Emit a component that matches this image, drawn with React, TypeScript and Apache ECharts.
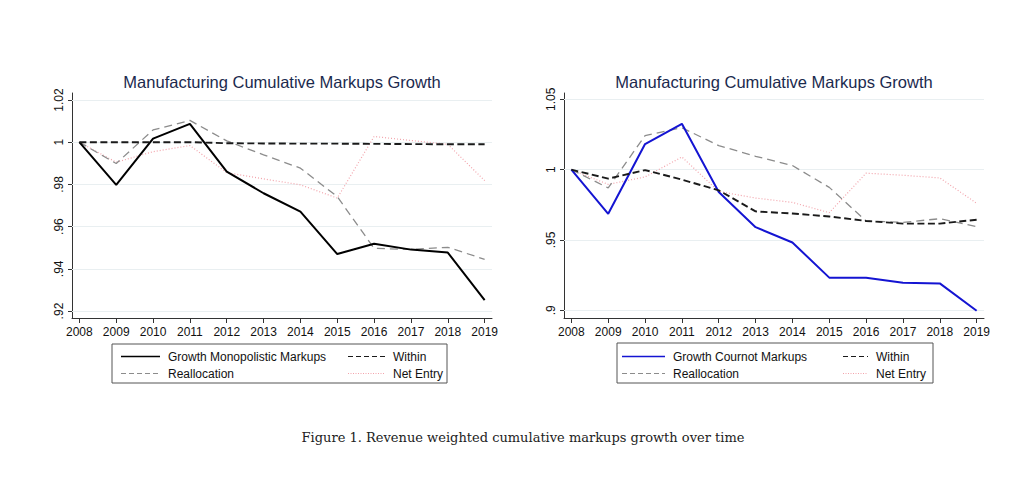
import React, { useEffect, useRef } from "react";
import * as echarts from "echarts";

// Years on the horizontal axis
const years = [2008, 2009, 2010, 2011, 2012, 2013, 2014, 2015, 2016, 2017, 2018, 2019];

// Left panel: monopolistic markups decomposition
const monoGrowth = [1.0, 0.9798, 1.0017, 1.0087, 0.9861, 0.9758, 0.9671, 0.947, 0.9519, 0.9491, 0.9477, 0.9252];
const monoWithin = [1.0, 1.0, 1.0, 1.0, 0.9995, 0.9994, 0.9993, 0.9993, 0.9992, 0.9991, 0.999, 0.999];
const monoRealloc = [1.0, 0.9899, 1.0058, 1.0103, 1.0006, 0.994, 0.9877, 0.9742, 0.9497, 0.9492, 0.9502, 0.9445];
const monoEntry = [1.0, 0.9905, 0.9955, 0.9984, 0.9856, 0.9826, 0.9798, 0.9735, 1.0027, 1.0008, 0.999, 0.9818];

// Right panel: Cournot markups decomposition
const cournotGrowth = [1.0, 0.9686, 1.0182, 1.0326, 0.9841, 0.9591, 0.9482, 0.9232, 0.9232, 0.9196, 0.9191, 0.8997];
const cournotWithin = [1.0, 0.9936, 0.9997, 0.9929, 0.9853, 0.9703, 0.9688, 0.9667, 0.9635, 0.9616, 0.9616, 0.9644];
const cournotRealloc = [1.0, 0.987, 1.0242, 1.0298, 1.0171, 1.0095, 1.0029, 0.9874, 0.9635, 0.9625, 0.9651, 0.9595];
const cournotEntry = [1.0, 0.9895, 0.9948, 1.009, 0.9845, 0.9798, 0.9767, 0.9694, 0.9975, 0.996, 0.9941, 0.9761];

// Tick values
const leftTicks = [0.92, 0.94, 0.96, 0.98, 1.0, 1.02];
const rightTicks = [0.9, 0.95, 1.0, 1.05];

const titleText = "Manufacturing Cumulative Markups Growth";
const captionText = "Figure 1. Revenue weighted cumulative markups growth over time";

const FONT = "'Liberation Sans', Arial, sans-serif";

const fmtTick = (v: number) => {
  let s = parseFloat(v.toFixed(2)).toString();
  if (s.startsWith("0.")) s = s.slice(1);
  return s;
};

const pairs = (vals: number[]) => years.map((y, i) => [y, vals[i]]);

export default function App() {
  const ref = useRef<HTMLDivElement>(null);

  useEffect(() => {
    if (!ref.current) return;
    const chart = echarts.init(ref.current, null, { renderer: "svg" });

    const grids = [
      { left: 72, top: 93, width: 420, height: 225 },
      { left: 564, top: 93, width: 420, height: 225 },
    ];

    const xAxis = [0, 1].map((g) => ({
      type: "value",
      gridIndex: g,
      min: 2007.8,
      max: 2019.2,
      axisLine: { show: true, lineStyle: { color: "#333", width: 1 } },
      axisTick: { show: true, length: 5, customValues: years, lineStyle: { color: "#333" } },
      axisLabel: {
        customValues: years,
        margin: 8,
        color: "#111",
        fontSize: 12,
        fontFamily: FONT,
        formatter: (v: number) => String(v),
      },
      splitLine: { show: false },
    }));

    const yAxis = [
      { ticks: leftTicks, min: 0.9167, max: 1.0233 },
      { ticks: rightTicks, min: 0.8945, max: 1.0545 },
    ].map((a, g) => ({
      type: "value",
      gridIndex: g,
      min: a.min,
      max: a.max,
      axisLine: { show: true, lineStyle: { color: "#333", width: 1 } },
      axisTick: { show: true, length: 4, customValues: a.ticks, lineStyle: { color: "#333" } },
      axisLabel: {
        customValues: a.ticks,
        rotate: 90,
        margin: 7,
        color: "#111",
        fontSize: 12,
        fontFamily: FONT,
        formatter: (v: number) => fmtTick(v),
      },
      splitLine: { show: false },
    }));

    // Light horizontal rules at each y tick, kept underneath the data lines
    const gridLines = (g: number, ticks: number[]) => ({
      type: "line",
      xAxisIndex: g,
      yAxisIndex: g,
      data: [],
      silent: true,
      z: 1,
      markLine: {
        silent: true,
        z: 1,
        symbol: ["none", "none"],
        label: { show: false },
        lineStyle: { color: "#e9eff1", type: "solid", width: 1 },
        data: ticks.map((t) => ({ yAxis: t })),
      },
    });

    const line = (g: number, name: string, vals: number[], style: any) => ({
      type: "line",
      name,
      xAxisIndex: g,
      yAxisIndex: g,
      data: pairs(vals),
      symbol: "none",
      z: 6,
      lineStyle: style,
    });

    const realloc = { color: "#8c8c8c", width: 1.3, type: [8, 5] };
    const entry = { color: "#f2a3ab", width: 1.2, type: [1, 2] };
    const within = { color: "#1a1a1a", width: 1.9, type: [7, 3.5] };

    const series = [
      gridLines(0, leftTicks),
      gridLines(1, rightTicks),
      line(0, "Net Entry", monoEntry, entry),
      line(0, "Reallocation", monoRealloc, realloc),
      line(0, "Growth Monopolistic Markups", monoGrowth, { color: "#000", width: 2 }),
      line(0, "Within", monoWithin, within),
      line(1, "Net Entry", cournotEntry, entry),
      line(1, "Reallocation", cournotRealloc, realloc),
      line(1, "Growth Cournot Markups", cournotGrowth, { color: "#1414d2", width: 2 }),
      line(1, "Within", cournotWithin, within),
    ];

    // Two-column boxed legends drawn beneath each panel
    const legendBlock = (
      box: { x: number; y: number; w: number; h: number },
      rows: { y: number }[],
      col1: { x1: number; x2: number; tx: number },
      col2: { x1: number; x2: number; tx: number },
      items: { label: string; style: any }[]
    ) => {
      const children: any[] = [
        {
          type: "rect",
          shape: { x: box.x, y: box.y, width: box.w, height: box.h },
          style: { fill: "#fff", stroke: "#555", lineWidth: 1 },
        },
      ];
      items.forEach((it, i) => {
        const col = i % 2 === 0 ? col1 : col2;
        const y = rows[Math.floor(i / 2)].y;
        children.push({
          type: "line",
          shape: { x1: col.x1, y1: y, x2: col.x2, y2: y },
          style: {
            stroke: it.style.color,
            lineWidth: it.style.width,
            lineDash: Array.isArray(it.style.type) ? it.style.type : null,
          },
        });
        children.push({
          type: "text",
          x: col.tx,
          y,
          style: {
            text: it.label,
            fill: "#111",
            font: `12px ${FONT}`,
            textVerticalAlign: "middle",
            textAlign: "left",
          },
        });
      });
      return { type: "group", children };
    };

    const legendItems = (main: string, color: string) => [
      { label: main, style: { color, width: 1.5 } },
      { label: "Within", style: { color: "#1a1a1a", width: 1.2, type: [5, 3] } },
      { label: "Reallocation", style: { color: "#8c8c8c", width: 1.2, type: [5, 3] } },
      { label: "Net Entry", style: { color: "#f2a3ab", width: 1, type: [1, 1.5] } },
    ];

    const title = (x: number) => ({
      type: "text",
      x,
      y: 82,
      style: {
        text: titleText,
        fill: "#1b2a4e",
        font: `16.5px ${FONT}`,
        textAlign: "center",
        textVerticalAlign: "middle",
      },
    });

    const graphic = [
      title(282),
      title(774),
      legendBlock(
        { x: 112, y: 344, w: 335, h: 39 },
        [{ y: 356.5 }, { y: 373.5 }],
        { x1: 121, x2: 160, tx: 168 },
        { x1: 348, x2: 385, tx: 393 },
        legendItems("Growth Monopolistic Markups", "#000")
      ),
      legendBlock(
        { x: 617, y: 343, w: 316, h: 40 },
        [{ y: 356.5 }, { y: 373.5 }],
        { x1: 622, x2: 665, tx: 673 },
        { x1: 843, x2: 868, tx: 876 },
        legendItems("Growth Cournot Markups", "#1414d2")
      ),
      {
        type: "text",
        x: 523,
        y: 437,
        style: {
          text: captionText,
          fill: "#222",
          font: "13px 'DejaVu Serif', serif",
          textAlign: "center",
          textVerticalAlign: "middle",
        },
      },
    ];

    chart.setOption({
      animation: false,
      backgroundColor: "#fff",
      grid: grids,
      xAxis,
      yAxis,
      series,
      graphic,
    });

    return () => chart.dispose();
  }, []);

  return (
    <div
      ref={ref}
      style={{ position: "absolute", left: 0, top: 0, width: 1028, height: 490, background: "#fff" }}
    />
  );
}
